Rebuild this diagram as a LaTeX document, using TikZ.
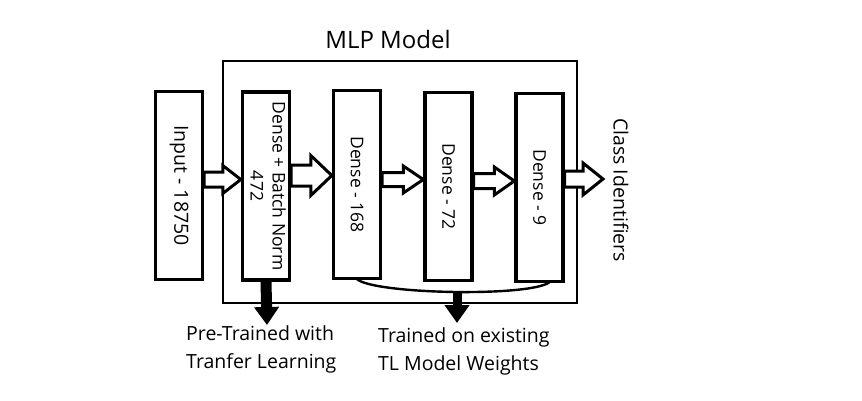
\documentclass[tikz,border=0pt]{standalone}
\usepackage{fontspec}
\setmainfont{Open Sans}
\usetikzlibrary{arrows.meta,calc}
\newcommand\blockarr[6]{%
  \draw[barrow] let \p1=(#1), \p2=(#2) in
    (\x1,#3+#4) -- (\x2-#6,#3+#4) -- (\x2-#6,#3+#5) -- (\x2,#3)
    -- (\x2-#6,#3-#5) -- (\x2-#6,#3-#4) -- (\x1,#3-#4) -- cycle;}
\begin{document}
\begin{tikzpicture}[x=1pt,y=1pt,
  layer/.style={draw, line width=3.4pt, fill=white, minimum width=47pt,
    minimum height=188pt, inner sep=0pt, align=center},
  barrow/.style={draw, line width=3pt, fill=white, line join=miter},
  downarr/.style={-{Triangle[width=24pt,length=18pt]}},
  boxtxt/.style={font=\fontsize{17.5}{22}\selectfont},
  lbl/.style={font=\fontsize{19.5}{28.5}\selectfont, align=left, inner sep=0pt, anchor=north west}
]
\useasboundingbox (0,0) rectangle (862,400);
\fill[white] (0,0) rectangle (862,400);

% outer MLP frame
\node[draw, line width=2.8pt, minimum width=354pt, minimum height=242pt, inner sep=0pt] (mlp) at (400,218) {};
\node[font=\fontsize{24}{28}\selectfont, inner sep=0pt] (mlptitle) at (388,361) {MLP Model};

% layer boxes
\node[layer, font=\fontsize{19.5}{22}\selectfont] (inp) at (179,214.5) {\rotatebox{-90}{Input - 18750}};
\node[layer, boxtxt] (bn) at (266,214) {\rotatebox{-90}{\begin{tabular}{@{}c@{}}Dense + Batch Norm\\472\end{tabular}}};
\node[layer, boxtxt] (d1) at (357,215.5) {\rotatebox{-90}{Dense - 168}};
\node[layer, boxtxt] (d2) at (448.5,213.5) {\rotatebox{-90}{Dense - 72}};
\node[layer, boxtxt] (d3) at (539.5,212.5) {\rotatebox{-90}{Dense - 9}};

\node[font=\fontsize{19.5}{24}\selectfont, rotate=-90, inner sep=0pt] (cls) at (621,210) {Class Identifiers};
\coordinate (out) at (603,221);

% block arrows
\blockarr{inp.east}{bn.west}{220.5}{7.5}{14}{18}
\blockarr{bn.east}{d1.west}{224.5}{10.5}{20}{21}
\blockarr{d1.east}{d2.west}{220.5}{7}{13.5}{20}
\blockarr{d2.east}{d3.west}{219}{7.5}{14}{20}
\blockarr{d3.east}{out}{221}{8}{16}{20}

% brace curve under trained layers
\coordinate (cs) at ($(d1.south)+(0,1)$);
\coordinate (ce) at ($(d3.south)+(10,1)$);
\coordinate (cm) at (457,109);
\draw[line width=2.4pt] (cs) .. controls ($(cs)+(18,-15)$) and ($(ce)+(-20,-15)$) .. (ce);

% down arrows
\coordinate (t1) at (267,75);
\coordinate (t2) at (457,77);
\draw[line width=11pt, downarr] (bn.south) -- (t1);
\draw[line width=9pt, downarr] (cm) -- (t2);

% labels
\node[lbl] (l1) at (186,75) {Pre-Trained with\\Tranfer Learning};
\node[lbl] (l2) at (378,73) {Trained on existing\\TL Model Weights};
\end{tikzpicture}
\end{document}
